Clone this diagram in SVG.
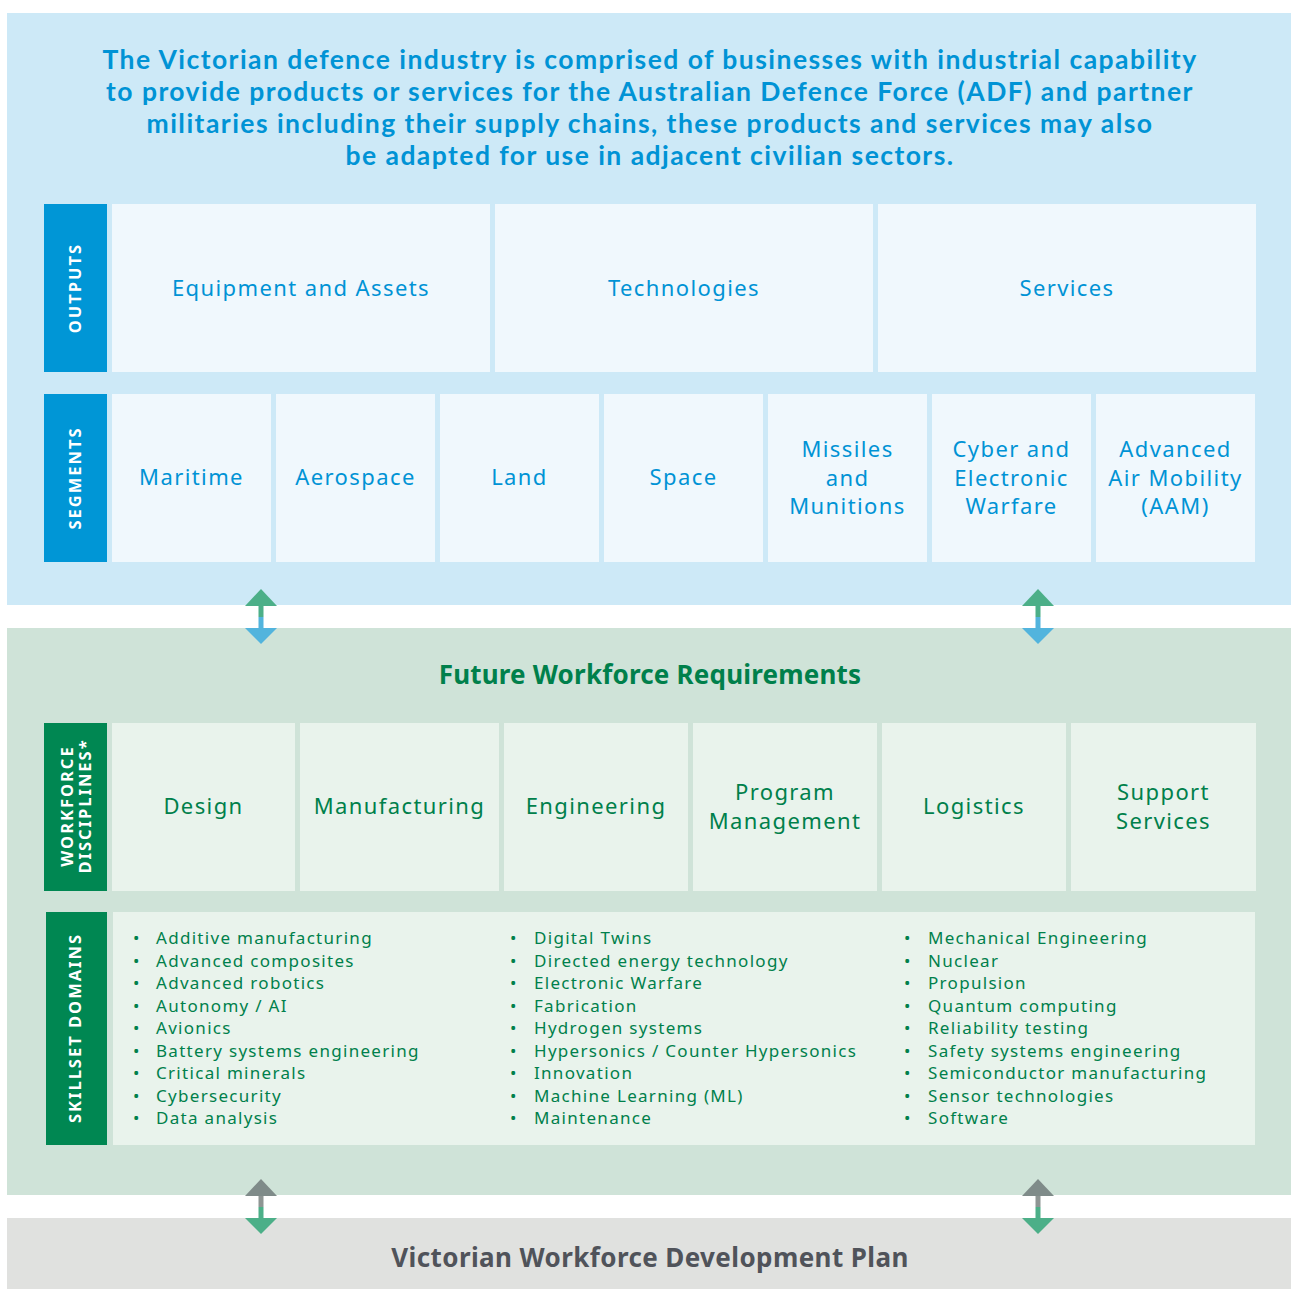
<svg xmlns="http://www.w3.org/2000/svg" width="1291" height="1289" viewBox="0 0 1291 1289">
<style>
.bpanel{fill:#cde9f7}
.gpanel{fill:#cfe3d8}
.graypanel{fill:#e0e1df}
.bcell{fill:#f0f8fd}
.gcell{fill:#e9f3ec}
.bside{fill:#0096d6}
.gside{fill:#008752}
.side{font-family:"Noto Sans","Liberation Sans",sans-serif;font-weight:700;font-size:16.5px;fill:#ffffff;letter-spacing:2px;text-anchor:middle}
.title{font-family:Lato,"Noto Sans","Liberation Sans",sans-serif;font-weight:700;font-size:26.5px;fill:#0093d5;text-anchor:middle;letter-spacing:1.45px}
.bt{font-family:"Noto Sans","Liberation Sans",sans-serif;font-size:22px;fill:#0093d5;text-anchor:middle;letter-spacing:1.4px}
.gt{font-family:"Noto Sans","Liberation Sans",sans-serif;font-size:22px;fill:#00804b;text-anchor:middle;letter-spacing:1.4px}
.gh{font-family:"Noto Sans","Liberation Sans",sans-serif;font-weight:700;font-size:26px;fill:#00804b;text-anchor:middle;letter-spacing:0.2px}
.grh{font-family:"Noto Sans","Liberation Sans",sans-serif;font-weight:700;font-size:26px;fill:#50535a;text-anchor:middle;letter-spacing:0.4px}
.li{font-family:"Noto Sans","Liberation Sans",sans-serif;font-size:17px;fill:#00804b;letter-spacing:1.3px}
</style>

<g id="top-panel">
<rect class="bpanel" x="7" y="13" width="1284" height="592"/>
<text class="title" x="650" y="69">The Victorian defence industry is comprised of businesses with industrial capability</text>
<text class="title" x="650" y="101">to provide products or services for the Australian Defence Force (ADF) and partner</text>
<text class="title" x="650" y="133">militaries including their supply chains, these products and services may also</text>
<text class="title" x="650" y="165">be adapted for use in adjacent civilian sectors.</text>
</g>

<g id="outputs">
<rect class="bside" x="44" y="204" width="63" height="168"/>
<text class="side" transform="translate(81,288) rotate(-90)">OUTPUTS</text>
<g id="out-equipment"><rect class="bcell" x="112" y="204" width="378" height="168"/><text class="bt" x="301" y="296">Equipment and Assets</text></g>
<g id="out-technologies"><rect class="bcell" x="495" y="204" width="378" height="168"/><text class="bt" x="684" y="296">Technologies</text></g>
<g id="out-services"><rect class="bcell" x="878" y="204" width="378" height="168"/><text class="bt" x="1067" y="296">Services</text></g>
</g>

<g id="segments">
<rect class="bside" x="44" y="394" width="63" height="168"/>
<text class="side" transform="translate(81,478) rotate(-90)">SEGMENTS</text>
<g id="seg-maritime"><rect class="bcell" x="112" y="394" width="159" height="168"/><text class="bt" x="191.5" y="485">Maritime</text></g>
<g id="seg-aerospace"><rect class="bcell" x="276" y="394" width="159" height="168"/><text class="bt" x="355.5" y="485">Aerospace</text></g>
<g id="seg-land"><rect class="bcell" x="440" y="394" width="159" height="168"/><text class="bt" x="519.5" y="485">Land</text></g>
<g id="seg-space"><rect class="bcell" x="604" y="394" width="159" height="168"/><text class="bt" x="683.5" y="485">Space</text></g>
<g id="seg-missiles"><rect class="bcell" x="768" y="394" width="159" height="168"/><text class="bt" x="847.5" y="457">Missiles</text><text class="bt" x="847.5" y="485.5">and</text><text class="bt" x="847.5" y="514">Munitions</text></g>
<g id="seg-cyber"><rect class="bcell" x="932" y="394" width="159" height="168"/><text class="bt" x="1011.5" y="457">Cyber and</text><text class="bt" x="1011.5" y="485.5">Electronic</text><text class="bt" x="1011.5" y="514">Warfare</text></g>
<g id="seg-aam"><rect class="bcell" x="1096" y="394" width="159" height="168"/><text class="bt" x="1175.5" y="457">Advanced</text><text class="bt" x="1175.5" y="485.5">Air Mobility</text><text class="bt" x="1175.5" y="514">(AAM)</text></g>
</g>

<g id="green-panel">
<rect class="gpanel" x="7" y="628" width="1284" height="567"/>
<text class="gh" x="650" y="684">Future Workforce Requirements</text>
</g>

<g id="disciplines">
<rect class="gside" x="44" y="723" width="63" height="168"/>
<text class="side" transform="translate(73,806) rotate(-90)">WORKFORCE</text>
<text class="side" transform="translate(91,806) rotate(-90)">DISCIPLINES*</text>
<g id="d-design"><rect class="gcell" x="112" y="723" width="183" height="168"/><text class="gt" x="203.5" y="814">Design</text></g>
<g id="d-manufacturing"><rect class="gcell" x="300" y="723" width="199" height="168"/><text class="gt" x="399.5" y="814">Manufacturing</text></g>
<g id="d-engineering"><rect class="gcell" x="504" y="723" width="184" height="168"/><text class="gt" x="596" y="814">Engineering</text></g>
<g id="d-program"><rect class="gcell" x="693" y="723" width="184" height="168"/><text class="gt" x="785" y="800">Program</text><text class="gt" x="785" y="829">Management</text></g>
<g id="d-logistics"><rect class="gcell" x="882" y="723" width="184" height="168"/><text class="gt" x="974" y="814">Logistics</text></g>
<g id="d-support"><rect class="gcell" x="1071" y="723" width="185" height="168"/><text class="gt" x="1163.5" y="800">Support</text><text class="gt" x="1163.5" y="829">Services</text></g>
</g>

<g id="skillsets">
<rect class="gside" x="46" y="912" width="61" height="233"/>
<text class="side" transform="translate(81,1028) rotate(-90)">SKILLSET DOMAINS</text>
<rect class="gcell" x="113" y="912" width="1142" height="233"/>
<g class="li">
<text x="133" y="944">•<tspan x="156">Additive manufacturing</tspan></text>
<text x="133" y="966.5">•<tspan x="156">Advanced composites</tspan></text>
<text x="133" y="989">•<tspan x="156">Advanced robotics</tspan></text>
<text x="133" y="1011.5">•<tspan x="156">Autonomy / AI</tspan></text>
<text x="133" y="1034">•<tspan x="156">Avionics</tspan></text>
<text x="133" y="1056.5">•<tspan x="156">Battery systems engineering</tspan></text>
<text x="133" y="1079">•<tspan x="156">Critical minerals</tspan></text>
<text x="133" y="1101.5">•<tspan x="156">Cybersecurity</tspan></text>
<text x="133" y="1124">•<tspan x="156">Data analysis</tspan></text>

<text x="510" y="944">•<tspan x="534">Digital Twins</tspan></text>
<text x="510" y="966.5">•<tspan x="534">Directed energy technology</tspan></text>
<text x="510" y="989">•<tspan x="534">Electronic Warfare</tspan></text>
<text x="510" y="1011.5">•<tspan x="534">Fabrication</tspan></text>
<text x="510" y="1034">•<tspan x="534">Hydrogen systems</tspan></text>
<text x="510" y="1056.5">•<tspan x="534">Hypersonics / Counter Hypersonics</tspan></text>
<text x="510" y="1079">•<tspan x="534">Innovation</tspan></text>
<text x="510" y="1101.5">•<tspan x="534">Machine Learning (ML)</tspan></text>
<text x="510" y="1124">•<tspan x="534">Maintenance</tspan></text>

<text x="904" y="944">•<tspan x="928">Mechanical Engineering</tspan></text>
<text x="904" y="966.5">•<tspan x="928">Nuclear</tspan></text>
<text x="904" y="989">•<tspan x="928">Propulsion</tspan></text>
<text x="904" y="1011.5">•<tspan x="928">Quantum computing</tspan></text>
<text x="904" y="1034">•<tspan x="928">Reliability testing</tspan></text>
<text x="904" y="1056.5">•<tspan x="928">Safety systems engineering</tspan></text>
<text x="904" y="1079">•<tspan x="928">Semiconductor manufacturing</tspan></text>
<text x="904" y="1101.5">•<tspan x="928">Sensor technologies</tspan></text>
<text x="904" y="1124">•<tspan x="928">Software</tspan></text>
</g>
</g>

<g id="gray-panel">
<rect class="graypanel" x="7" y="1218" width="1284" height="71"/>
<text class="grh" x="650" y="1267">Victorian Workforce Development Plan</text>
</g>

<g id="connectors">
<g id="arrow-top-left">
<polygon points="261,589 277,606 245,606" fill="#4caf88"/>
<rect x="258.5" y="606" width="5" height="11" fill="#4caf88"/>
<rect x="258.5" y="617" width="5" height="11" fill="#52b4dd"/>
<polygon points="245,628 277,628 261,644" fill="#52b4dd"/>
</g>
<g id="arrow-top-right">
<polygon points="1038,589 1054,606 1022,606" fill="#4caf88"/>
<rect x="1035.5" y="606" width="5" height="11" fill="#4caf88"/>
<rect x="1035.5" y="617" width="5" height="11" fill="#52b4dd"/>
<polygon points="1022,628 1054,628 1038,644" fill="#52b4dd"/>
</g>
<g id="arrow-bottom-left">
<polygon points="261,1179 277,1196 245,1196" fill="#7f8b89"/>
<rect x="258.5" y="1196" width="5" height="11" fill="#8e9593"/>
<rect x="258.5" y="1207" width="5" height="11" fill="#4caf88"/>
<polygon points="245,1218 277,1218 261,1234" fill="#4caf88"/>
</g>
<g id="arrow-bottom-right">
<polygon points="1038,1179 1054,1196 1022,1196" fill="#7f8b89"/>
<rect x="1035.5" y="1196" width="5" height="11" fill="#8e9593"/>
<rect x="1035.5" y="1207" width="5" height="11" fill="#4caf88"/>
<polygon points="1022,1218 1054,1218 1038,1234" fill="#4caf88"/>
</g>
</g>
</svg>
